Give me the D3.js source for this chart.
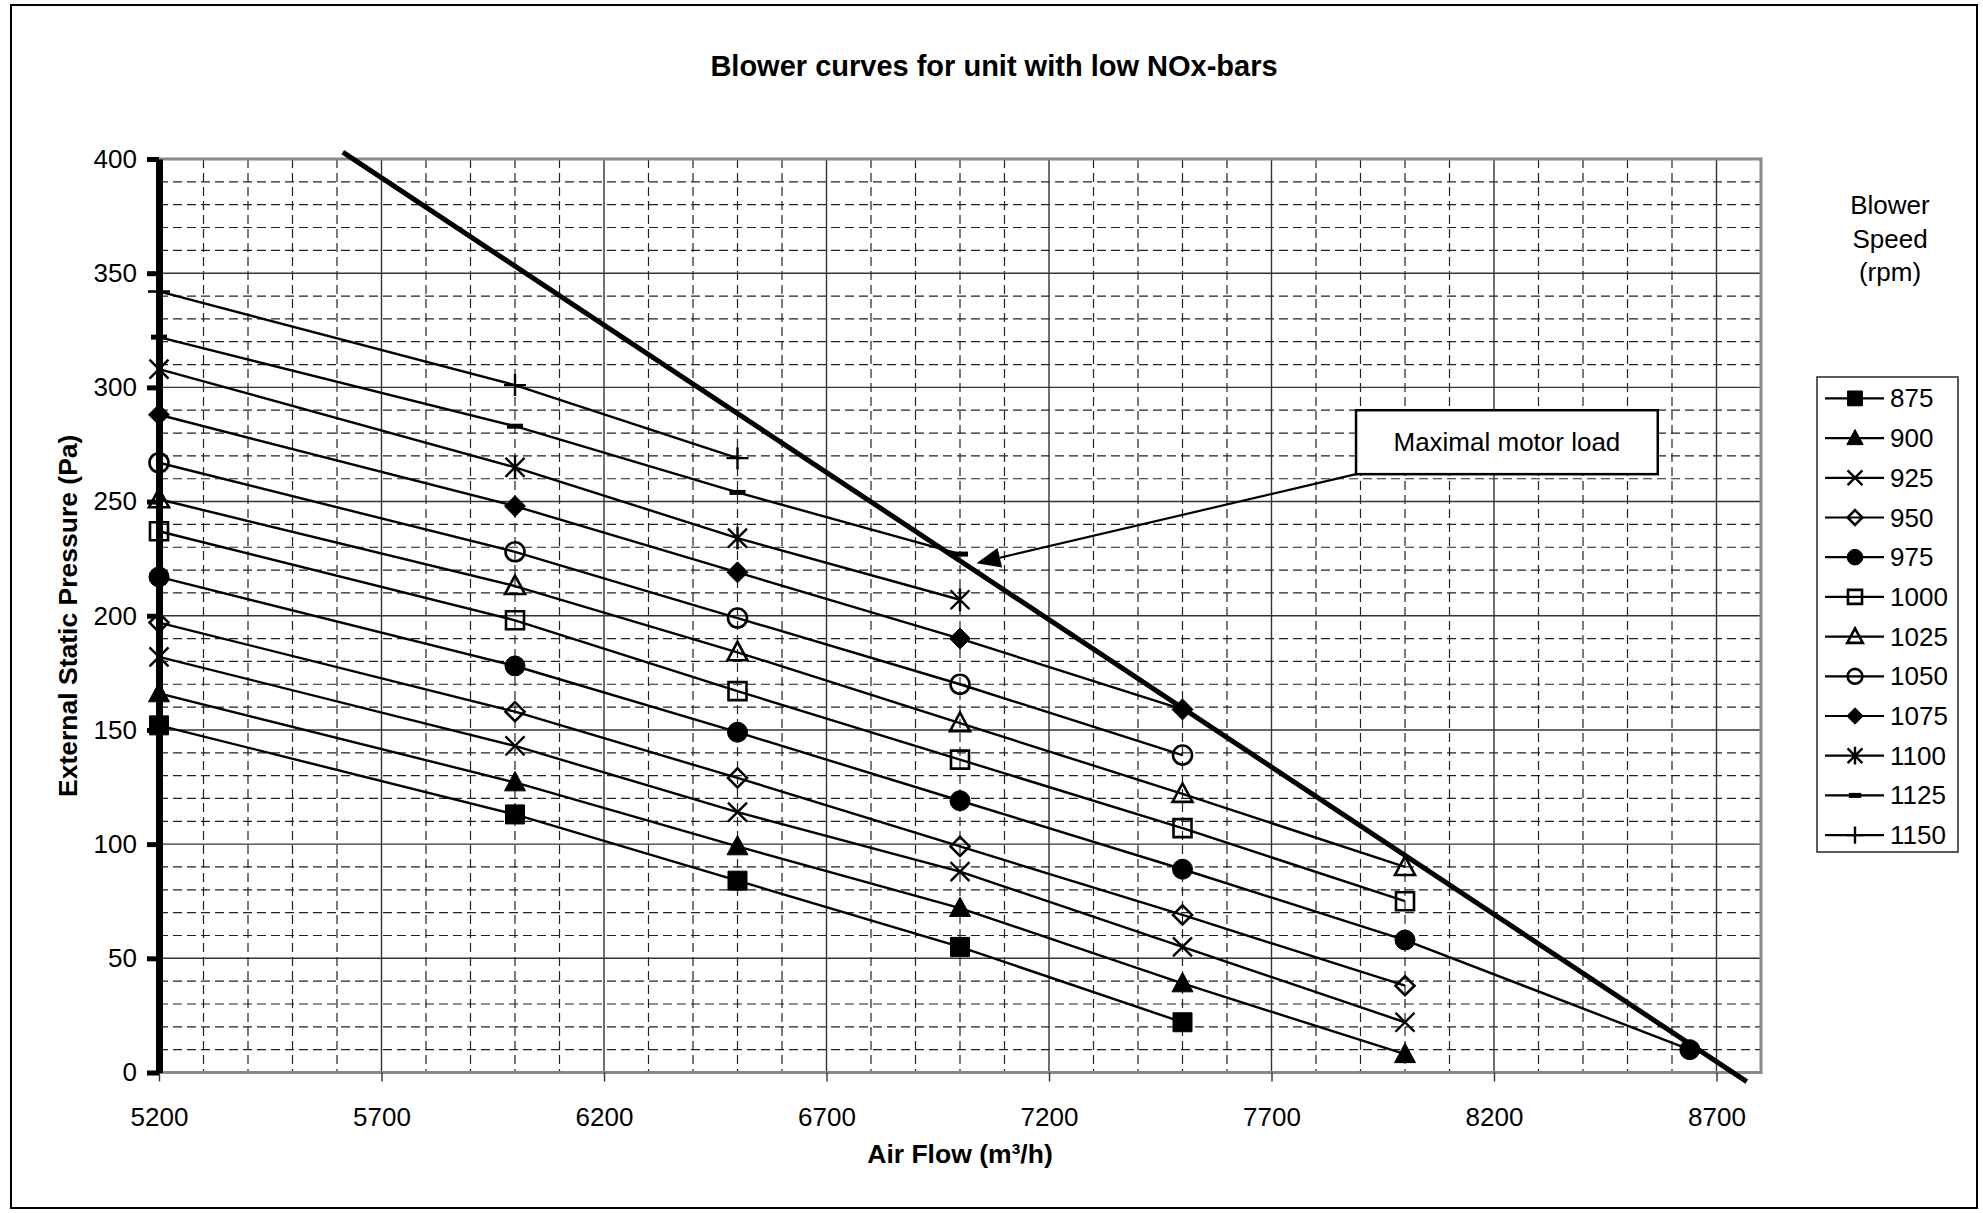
<!DOCTYPE html>
<html><head><meta charset="utf-8">
<script src="https://cdn.jsdelivr.net/npm/d3@7"></script>
<style>
body{margin:0;background:#fff}
text{font-family:"Liberation Sans",Arial,sans-serif;fill:#000}
</style>
</head><body>
<svg id="c" width="1983" height="1213"></svg>
<script>
// ---------- data ----------
const airFlow = [5200, 6000, 6500, 7000, 7500, 8000, 8640];
const blowerSpeeds = ["875","900","925","950","975","1000","1025","1050","1075","1100","1125","1150"];
const p875  = [152, 113, 84, 55, 22];
const p900  = [166, 127, 99, 72, 39, 8];
const p925  = [182, 143, 114, 88, 55, 22];
const p950  = [197, 158, 129, 99, 69, 38];
const p975  = [217, 178, 149, 119, 89, 58, 10];
const p1000 = [237, 198, 167, 137, 107, 75];
const p1025 = [251, 213, 184, 153, 122, 90];
const p1050 = [267, 228, 199, 170, 139];
const p1075 = [288, 248, 219, 190, 159];
const p1100 = [308, 265, 234, 207];
const p1125 = [322, 283, 254, 227];
const p1150 = [342, 301, 269];
const motorFlow = [5613, 8768];
const motorPressure = [403, -4];
const xTicks = [5200, 5700, 6200, 6700, 7200, 7700, 8200, 8700];
const yTicks = [0, 50, 100, 150, 200, 250, 300, 350, 400];
const annotationText = "Maximal motor load";
const annotationBox = [7890, 8568, 262, 290];   // flow0, flow1, pressure0, pressure1
const annotationTip = [7037, 223];
const titleText = "Blower curves for unit with low NOx-bars";
const xTitle = "Air Flow (m³/h)";
const yTitle = "External Static Pressure (Pa)";
const legendTitle = ["Blower", "Speed", "(rpm)"];

const seriesValues = [p875,p900,p925,p950,p975,p1000,p1025,p1050,p1075,p1100,p1125,p1150];
const markerTypes = ["square","triangle","x","diamondOpen","circle","squareOpen","triangleOpen","circleOpen","diamond","star","dash","plus"];

// ---------- setup ----------
const svg = d3.select("#c");
const x = d3.scaleLinear().domain([5200, 8800]).range([159, 1761]);
const y = d3.scaleLinear().domain([0, 400]).range([1072.5, 159]);

svg.append("rect").attr("x", 11).attr("y", 5).attr("width", 1966).attr("height", 1203)
  .attr("fill", "#fff").attr("stroke", "#000").attr("stroke-width", 2);

// grid
const g = svg.append("g");
const minorY = d3.range(10, 400, 10).filter(v => v % 50 !== 0);
const majorY = yTicks.filter(v => v > 0 && v < 400);
const minorX = d3.range(5300, 8800, 100).filter(v => (v - 5200) % 500 !== 0);
g.selectAll(".mny").data(minorY).join("line")
  .attr("x1", x(5200)).attr("x2", x(8800)).attr("y1", d => y(d)).attr("y2", d => y(d))
  .attr("stroke", "#222").attr("stroke-width", 1.2).attr("stroke-dasharray", "9,5");
g.selectAll(".mnx").data(minorX).join("line")
  .attr("y1", y(400)).attr("y2", y(0)).attr("x1", d => x(d)).attr("x2", d => x(d))
  .attr("stroke", "#222").attr("stroke-width", 1.2).attr("stroke-dasharray", "9,5");
g.selectAll(".mjy").data(majorY).join("line")
  .attr("x1", x(5200)).attr("x2", x(8800)).attr("y1", d => y(d)).attr("y2", d => y(d))
  .attr("stroke", "#333").attr("stroke-width", 1.4);
g.selectAll(".mjx").data(xTicks.filter(v => v > 5200)).join("line")
  .attr("y1", y(400)).attr("y2", y(0)).attr("x1", d => x(d)).attr("x2", d => x(d))
  .attr("stroke", "#333").attr("stroke-width", 1.4);

// plot border (top, right, bottom)
svg.append("path")
  .attr("d", `M${x(5200)},${y(400)}H${x(8800)}V${y(0)}H${x(5200)}`)
  .attr("fill", "none").attr("stroke", "#888").attr("stroke-width", 3);

// x axis
const xAxis = svg.append("g").attr("transform", `translate(0,${y(0)})`)
  .call(d3.axisBottom(x).tickValues(xTicks).tickSize(9).tickSizeOuter(0).tickPadding(26).tickFormat(d3.format("d")));
xAxis.select(".domain").remove();
xAxis.selectAll(".tick line").attr("stroke", "#333").attr("stroke-width", 1.4);
xAxis.selectAll(".tick text").attr("font-size", 26).attr("font-family", "Liberation Sans, Arial, sans-serif").attr("fill", "#000");

// y axis
const yAxis = svg.append("g").attr("transform", `translate(${x(5200)},0)`)
  .call(d3.axisLeft(y).tickValues(yTicks).tickSize(12).tickSizeOuter(0).tickPadding(10).tickFormat(d3.format("d")));
yAxis.select(".domain").attr("stroke", "#000").attr("stroke-width", 7);
yAxis.selectAll(".tick line").attr("stroke", "#000").attr("stroke-width", 5);
yAxis.selectAll(".tick text").attr("font-size", 26).attr("font-family", "Liberation Sans, Arial, sans-serif").attr("fill", "#000");

// markers
function markerPath(type, s) {
  const h = s / 2;
  switch (type) {
    case "square": case "squareOpen": return `M${-h},${-h}H${h}V${h}H${-h}Z`;
    case "triangle": case "triangleOpen": return `M0,${-h*1.05}L${h},${h*0.8}L${-h},${h*0.8}Z`;
    case "circle": case "circleOpen": return `M${h},0A${h},${h} 0 1,1 ${-h},0A${h},${h} 0 1,1 ${h},0Z`;
    case "diamond": case "diamondOpen": return `M0,${-h}L${h},0L0,${h}L${-h},0Z`;
    case "x": return `M${-h},${-h}L${h},${h}M${-h},${h}L${h},${-h}`;
    case "star": return `M${-h},${-h}L${h},${h}M${-h},${h}L${h},${-h}M0,${-h*1.2}V${h*1.2}`;
    case "dash": return `M${-h},0H${h}`;
    case "plus": return `M${-h},0H${h}M0,${-h}V${h}`;
  }
}
function markerStyle(sel, type) {
  const filled = ["square","triangle","circle","diamond"].includes(type);
  const open = ["squareOpen","triangleOpen","circleOpen","diamondOpen"].includes(type);
  sel.attr("fill", filled ? "#000" : "none")
     .attr("stroke", "#000")
     .attr("stroke-width", filled ? 1 : (type === "dash" ? 5 : (open ? 2.6 : 2.4)));
}
const markerSize = {square:19, triangle:21, x:19, diamondOpen:19, circle:20, squareOpen:18,
  triangleOpen:20, circleOpen:19, diamond:21, star:19, dash:16, plus:22};

// series
const line = d3.line().x(d => x(d[0])).y(d => y(d[1]));
seriesValues.forEach((vals, i) => {
  const pts = vals.map((v, j) => [airFlow[j], v]);
  svg.append("path").attr("d", line(pts)).attr("fill", "none")
    .attr("stroke", "#000").attr("stroke-width", 2.4);
  const t = markerTypes[i];
  svg.append("g").selectAll("path").data(pts).join("path")
    .attr("transform", d => `translate(${x(d[0])},${y(d[1])})`)
    .attr("d", markerPath(t, markerSize[t]))
    .call(markerStyle, t);
});

// maximal motor load line
svg.append("path").attr("d", line(motorFlow.map((f, i) => [f, motorPressure[i]])))
  .attr("fill", "none").attr("stroke", "#000").attr("stroke-width", 5);

// annotation
const [a0, a1, b0, b1] = annotationBox;
const tipX = x(annotationTip[0]), tipY = y(annotationTip[1]);
const sx = x(a0), sy = y(b0);
const ang = Math.atan2(tipY - sy, tipX - sx);
const headLen = 24, headW = 10;
const bx = tipX - headLen * Math.cos(ang), by = tipY - headLen * Math.sin(ang);
svg.append("line").attr("x1", sx).attr("y1", sy).attr("x2", bx).attr("y2", by)
  .attr("stroke", "#000").attr("stroke-width", 2.2);
svg.append("path").attr("d",
  `M${tipX},${tipY}L${bx + headW*Math.sin(ang)},${by - headW*Math.cos(ang)}L${bx - headW*Math.sin(ang)},${by + headW*Math.cos(ang)}Z`)
  .attr("fill", "#000");
svg.append("rect").attr("x", x(a0)).attr("y", y(b1)).attr("width", x(a1) - x(a0)).attr("height", y(b0) - y(b1))
  .attr("fill", "#fff").attr("stroke", "#000").attr("stroke-width", 2.5);
svg.append("text").attr("x", (x(a0) + x(a1)) / 2).attr("y", (y(b0) + y(b1)) / 2 + 9)
  .attr("text-anchor", "middle").attr("font-size", 26).text(annotationText);

// titles
svg.append("text").attr("x", 994).attr("y", 76).attr("text-anchor", "middle")
  .attr("font-size", 29).attr("font-weight", "bold").text(titleText);
svg.append("text").attr("x", (x(5200) + x(8800)) / 2).attr("y", 1163).attr("text-anchor", "middle")
  .attr("font-size", 26.5).attr("font-weight", "bold").text(xTitle);
svg.append("text").attr("transform", `translate(77,${(y(0) + y(400)) / 2}) rotate(-90)`)
  .attr("text-anchor", "middle").attr("font-size", 26.5).attr("font-weight", "bold").text(yTitle);

// legend
legendTitle.forEach((t, i) => {
  svg.append("text").attr("x", 1890).attr("y", 214 + i * 33.5).attr("text-anchor", "middle")
    .attr("font-size", 26).text(t);
});
svg.append("rect").attr("x", 1817).attr("y", 377).attr("width", 141).attr("height", 475)
  .attr("fill", "#fff").attr("stroke", "#333").attr("stroke-width", 1.6);
blowerSpeeds.forEach((s, i) => {
  const cy = 398.4 + i * 39.7;
  const t = markerTypes[i];
  svg.append("line").attr("x1", 1825).attr("x2", 1884).attr("y1", cy).attr("y2", cy)
    .attr("stroke", "#000").attr("stroke-width", 2.2);
  svg.append("path").attr("transform", `translate(1855,${cy})`)
    .attr("d", markerPath(t, markerSize[t] * 0.78)).call(markerStyle, t);
  svg.append("text").attr("x", 1890).attr("y", cy + 9).attr("font-size", 26).text(s);
});
</script>
</body></html>
